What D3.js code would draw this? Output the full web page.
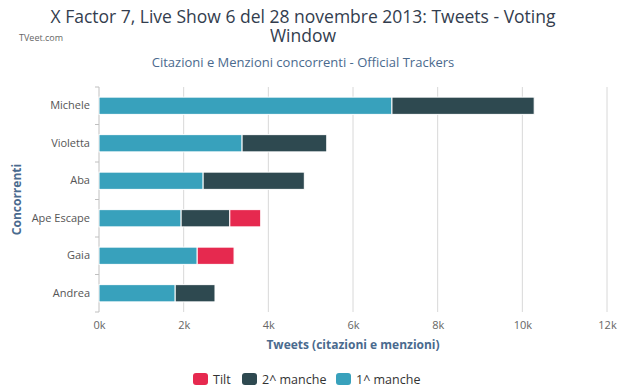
<!DOCTYPE html>
<html lang="it">
<head>
<meta charset="UTF-8" />
<title>X Factor 7 - Tweets</title>
<script src="https://d3js.org/d3.v7.min.js"></script>
<style>
  body { margin: 0; background: #fff; font-family: "Open Sans", "DejaVu Sans", sans-serif; }
</style>
</head>
<body>
<div id="chart"></div>
<script>
// data
var categories = ["Michele", "Violetta", "Aba", "Ape Escape", "Gaia", "Andrea"];
var manche1 = [6920, 3380, 2460, 1940, 2320, 1800];
var manche2 = [3360, 2000, 2390, 1150, 0, 940];
var tilt = [0, 0, 0, 730, 870, 0];
var xTicks = [0, 2000, 4000, 6000, 8000, 10000, 12000];

var seriesNames = ["1^ manche", "2^ manche", "Tilt"];
var colors = {"1^ manche": "#38a1bc", "2^ manche": "#2e4950", "Tilt": "#e6294f"};

var W = 620, H = 391;
var margin = {top: 87, right: 13, bottom: 79, left: 99};
var width = W - margin.left - margin.right,
    height = H - margin.top - margin.bottom;

var svg = d3.select("#chart").append("svg")
  .attr("width", W).attr("height", H);

// titles (two lines, like the wrapped original)
svg.append("text")
  .attr("x", 303).attr("y", 23)
  .attr("text-anchor", "middle")
  .attr("fill", "#333d4e")
  .style("font-size", "17.5px")
  .text("X Factor 7, Live Show 6 del 28 novembre 2013: Tweets - Voting");
svg.append("text")
  .attr("x", 303).attr("y", 42)
  .attr("text-anchor", "middle")
  .attr("fill", "#333d4e")
  .style("font-size", "17.5px")
  .text("Window");

svg.append("text")
  .attr("x", 19).attr("y", 41)
  .attr("fill", "#666")
  .style("font-size", "9px")
  .text("TVeet.com");

svg.append("text")
  .attr("x", 303).attr("y", 67)
  .attr("text-anchor", "middle")
  .attr("fill", "#4a6a8e")
  .style("font-size", "13px")
  .text("Citazioni e Menzioni concorrenti - Official Trackers");

var g = svg.append("g")
  .attr("transform", "translate(" + margin.left + "," + margin.top + ")");

var x = d3.scaleLinear().domain([0, 12000]).range([0, width]);
var y = d3.scaleBand().domain(categories).range([0, height]).paddingInner(0.54).paddingOuter(0.27);

// grid lines
g.append("g")
  .selectAll("line")
  .data(xTicks.slice(1))
  .enter().append("line")
    .attr("x1", function(d) { return x(d); })
    .attr("x2", function(d) { return x(d); })
    .attr("y1", 0).attr("y2", height)
    .attr("stroke", "#d8d8d8");

// x axis
var xAxis = g.append("g")
  .attr("transform", "translate(0," + height + ")")
  .call(d3.axisBottom(x).tickValues(xTicks).tickSize(0).tickPadding(9)
    .tickFormat(function(d) { return (d / 1000) + "k"; }));
xAxis.select(".domain").remove();
xAxis.selectAll("text").attr("fill", "#666").style("font-size", "11px").style("font-family", "'Open Sans', sans-serif");

// y axis line and ticks between categories
var boundaries = d3.range(categories.length + 1).map(function(i) { return i * height / categories.length; });
g.append("line")
  .attr("x1", 0).attr("x2", 0).attr("y1", 0).attr("y2", height)
  .attr("stroke", "#c0c0c0");
g.append("g").selectAll("line")
  .data(boundaries)
  .enter().append("line")
    .attr("x1", -4).attr("x2", 0)
    .attr("y1", function(d) { return d; }).attr("y2", function(d) { return d; })
    .attr("stroke", "#c0c0c0");

var yAxis = g.append("g")
  .call(d3.axisLeft(y).tickSize(0).tickPadding(9));
yAxis.select(".domain").remove();
yAxis.selectAll("text").attr("fill", "#555").style("font-size", "11px").style("font-family", "'Open Sans', sans-serif");

// stacked bars
var rows = categories.map(function(c, i) {
  return {cat: c, "1^ manche": manche1[i], "2^ manche": manche2[i], "Tilt": tilt[i]};
});
var stack = d3.stack().keys(seriesNames)(rows);

g.append("g").selectAll("g")
  .data(stack)
  .enter().append("g")
    .attr("fill", function(d) { return colors[d.key]; })
  .selectAll("rect")
  .data(function(d) { return d.filter(function(p) { return p[1] > p[0]; }); })
  .enter().append("rect")
    .attr("x", function(d) { return x(d[0]); })
    .attr("y", function(d) { return y(d.data.cat); })
    .attr("width", function(d) { return x(d[1]) - x(d[0]); })
    .attr("height", y.bandwidth())
    .attr("stroke", "#fff")
    .attr("stroke-width", 1);

// axis titles
svg.append("text")
  .attr("x", margin.left + width / 2).attr("y", 349)
  .attr("text-anchor", "middle")
  .attr("fill", "#4a6a8e")
  .style("font-size", "12px").style("font-weight", "bold")
  .text("Tweets (citazioni e menzioni)");

svg.append("text")
  .attr("transform", "translate(21," + (margin.top + height / 2) + ") rotate(-90)")
  .attr("text-anchor", "middle")
  .attr("fill", "#4a6a8e")
  .style("font-size", "12px").style("font-weight", "bold")
  .text("Concorrenti");

// legend (reversed order)
var legendItems = [{name: "Tilt", x: 193}, {name: "2^ manche", x: 242}, {name: "1^ manche", x: 336}];
var leg = svg.append("g").selectAll("g")
  .data(legendItems)
  .enter().append("g")
    .attr("transform", function(d) { return "translate(" + d.x + ",373)"; });
leg.append("rect")
  .attr("width", 15).attr("height", 12).attr("rx", 3)
  .attr("fill", function(d) { return colors[d.name]; });
leg.append("text")
  .attr("x", 20).attr("y", 11)
  .attr("fill", "#333")
  .style("font-size", "12.5px")
  .text(function(d) { return d.name; });
</script>
</body>
</html>
